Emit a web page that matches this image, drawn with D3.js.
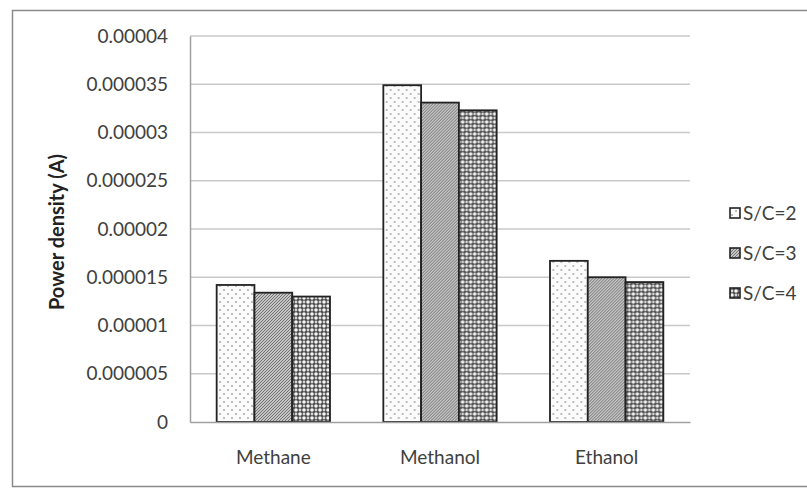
<!DOCTYPE html>
<html><head><meta charset="utf-8">
<script src="https://cdnjs.cloudflare.com/ajax/libs/d3/7.8.5/d3.min.js"></script>
<style>body{margin:0;background:#fff;}svg{display:block;font-family:Lato,"Open Sans",sans-serif;}</style>
</head><body>
<svg id="chart" width="807" height="489"></svg>
<script>
const categories = ["Methane", "Methanol", "Ethanol"];
const seriesNames = ["S/C=2", "S/C=3", "S/C=4"];
const sc2 = [1.42e-5, 3.49e-5, 1.67e-5];
const sc3 = [1.34e-5, 3.31e-5, 1.50e-5];
const sc4 = [1.30e-5, 3.23e-5, 1.45e-5];
const yTicks = [0, 0.000005, 0.00001, 0.000015, 0.00002, 0.000025, 0.00003, 0.000035, 0.00004];
const yTickLabels = ["0", "0.000005", "0.00001", "0.000015", "0.00002", "0.000025", "0.00003", "0.000035", "0.00004"];
const seriesValues = [sc2, sc3, sc4];

const svg = d3.select("#chart");
const defs = svg.append("defs");

// Pattern for S/C=2: sparse dots
const p1 = defs.append("pattern").attr("id","pat0").attr("patternUnits","userSpaceOnUse").attr("width",8).attr("height",8);
p1.append("rect").attr("width",8).attr("height",8).attr("fill","#fbfbfb");
p1.append("circle").attr("cx",2).attr("cy",2).attr("r",0.9).attr("fill","#a0a0a0");
p1.append("circle").attr("cx",6).attr("cy",6).attr("r",0.9).attr("fill","#a0a0a0");
// Pattern for S/C=3: dense diagonal hatch
const p2 = defs.append("pattern").attr("id","pat1").attr("patternUnits","userSpaceOnUse").attr("width",3).attr("height",3);
p2.append("rect").attr("width",3).attr("height",3).attr("fill","#c4c4c4");
p2.append("path").attr("d","M0,3 L3,0 M-1,1 L1,-1 M2,4 L4,2").attr("stroke","#6a6a6a").attr("stroke-width",0.9);
// Pattern for S/C=4: white circles on dark
const p3 = defs.append("pattern").attr("id","pat2").attr("patternUnits","userSpaceOnUse").attr("width",8).attr("height",8);
p3.append("rect").attr("width",8).attr("height",8).attr("fill","#4a4a4a");
[[2,2],[6,6],[6,2],[2,6]].forEach((c,i)=>{
  p3.append("circle").attr("cx",c[0]).attr("cy",c[1]).attr("r",i<2?1.8:1.4).attr("fill",i<2?"#f6f6f6":"#d6d6d6");
});

// outer border
svg.append("rect").attr("x",12.5).attr("y",10.5).attr("width",800).attr("height",476)
  .attr("fill","none").attr("stroke","#8a8a8a").attr("stroke-width",1.5);

const plotL = 190, plotR = 690, plotT = 36, plotB = 422;
const y = d3.scaleLinear().domain([0, 0.00004]).range([plotB, plotT]);
const x0 = d3.scaleBand().domain(categories).range([plotL, plotR]).paddingInner(0).paddingOuter(0);
const gap = x0.bandwidth() * 0.16;
const x1 = d3.scaleBand().domain(seriesNames).range([gap, x0.bandwidth() - gap]).padding(0);

// gridlines
svg.append("g").selectAll("line").data(yTicks.filter(d=>d>0)).join("line")
  .attr("x1",plotL).attr("x2",plotR).attr("y1",d=>y(d)).attr("y2",d=>y(d))
  .attr("stroke","#c9c9c9").attr("stroke-width",1.6);

// y axis
const yAxis = d3.axisLeft(y).tickValues(yTicks).tickFormat((d,i)=>yTickLabels[i]).tickSize(0).tickPadding(22);
const gy = svg.append("g").attr("transform",`translate(${plotL},0)`).call(yAxis);
gy.select(".domain").attr("stroke","#a0a0a0").attr("stroke-width",1.5);
gy.selectAll("text").attr("font-size",19).attr("fill","#404040").attr("font-family","Lato, sans-serif");

// bars
const groups = svg.append("g").selectAll("g").data(categories).join("g")
  .attr("transform",d=>`translate(${x0(d)},0)`);
groups.selectAll("rect").data((c,ci)=>seriesNames.map((s,si)=>({s,si,v:seriesValues[si][ci]}))).join("rect")
  .attr("x",d=>x1(d.s)).attr("width",x1.bandwidth())
  .attr("y",d=>y(d.v)).attr("height",d=>plotB - y(d.v))
  .attr("fill",d=>`url(#pat${d.si})`).attr("stroke","#222").attr("stroke-width",1.8);

// x axis
const xAxis = d3.axisBottom(x0).tickSize(0).tickPadding(29);
const gx = svg.append("g").attr("transform",`translate(0,${plotB})`).call(xAxis);
gx.select(".domain").attr("stroke","#a0a0a0").attr("stroke-width",1.5);
gx.selectAll("text").attr("font-size",19).attr("fill","#404040").attr("font-family","Lato, sans-serif");

// y title
svg.append("text").attr("transform","translate(64,232) rotate(-90)")
  .attr("text-anchor","middle").attr("font-size",20).attr("font-weight","bold").attr("fill","#222")
  .text("Power density (A)");

// legend
const leg = svg.append("g").selectAll("g").data(seriesNames).join("g")
  .attr("transform",(d,i)=>`translate(730,${213 + i*40})`);
leg.append("rect").attr("x",0).attr("y",-5).attr("width",10).attr("height",10)
  .attr("fill",(d,i)=>`url(#pat${i})`).attr("stroke","#222").attr("stroke-width",1.6);
leg.append("text").attr("x",13).attr("y",0).attr("dy","0.35em").attr("font-size",19).attr("fill","#404040")
  .text(d=>d);
</script>
</body></html>
